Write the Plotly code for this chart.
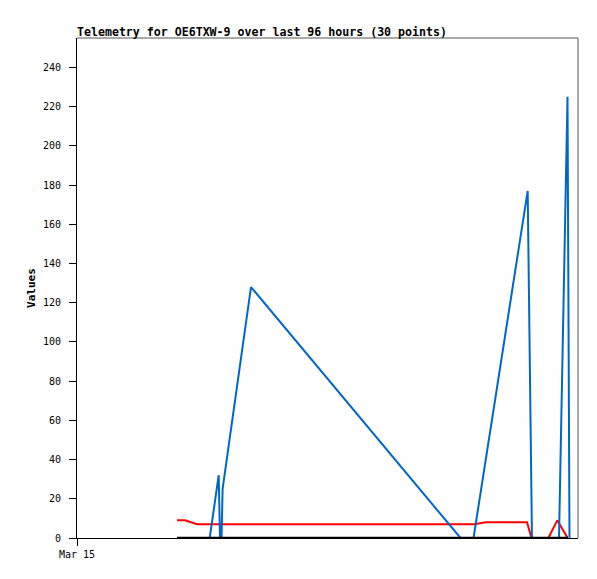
import plotly.graph_objects as go

# hours since Mar 15 00:00
blue_hours = [19.16, 25.43, 27.15, 27.40, 27.70, 27.90, 33.34, 73.49, 75.98, 86.36, 87.18, 92.36, 93.99, 94.37]
blue_values = [0, 0, 32, 0, 0, 25, 128, 0, 0, 177, 0, 0, 225, 0]

red_hours = [19.16, 20.69, 22.99, 76.07, 78.37, 86.23, 87.09, 90.31, 92.03, 94.02]
red_values = [9, 9, 7, 7, 8, 8, 0, 0, 9, 0]

black_hours = [19.16, 94.08]
black_values = [0, 0]

x_tick_vals = [0]
x_tick_text = ["Mar 15"]

FONT = "DejaVu Sans Mono"
OFF = 8  # page body margin offset

fig = go.Figure()
fig.add_trace(go.Scatter(x=red_hours, y=red_values, mode="lines",
                         line=dict(color="#ff0000", width=2), hoverinfo="skip"))
fig.add_trace(go.Scatter(x=blue_hours, y=blue_values, mode="lines",
                         line=dict(color="#0066cc", width=2), hoverinfo="skip"))
fig.add_trace(go.Scatter(x=black_hours, y=black_values, mode="lines",
                         line=dict(color="#000000", width=2.5), hoverinfo="skip"))

fig.update_layout(
    width=597, height=579, autosize=False,
    margin=dict(l=77 - OFF, r=19 + OFF, t=38 - OFF, b=41 + OFF),
    paper_bgcolor="white", plot_bgcolor="white",
    showlegend=False,
    font=dict(family=FONT, size=10, color="black"),
    title=dict(text="<b>Telemetry for OE6TXW-9 over last 96 hours (30 points)</b>",
               x=(77 - OFF) / 597, xanchor="left", xref="container",
               y=1 - (32 - OFF) / 579, yanchor="middle", yref="container",
               font=dict(family=FONT, size=11.6, color="black")),
    xaxis=dict(range=[0, 96], tickmode="array", tickvals=x_tick_vals, ticktext=x_tick_text,
               showgrid=False, zeroline=False, showline=True, linecolor="black", linewidth=1,
               ticks="outside", ticklen=7, tickcolor="black", tickwidth=1,
               tickfont=dict(family=FONT, size=10, color="black")),
    yaxis=dict(range=[0, 255], dtick=20, tick0=0,
               showgrid=False, zeroline=False, showline=True, linecolor="black", linewidth=1,
               ticks="outside", ticklen=7, tickcolor="black", tickwidth=1,
               ticklabelstandoff=6,
               tickfont=dict(family=FONT, size=10, color="black"),
               title=dict(text="<b>Values</b>", standoff=5,
                          font=dict(family=FONT, size=11, color="black"))),
    shapes=[
        dict(type="line", xref="paper", yref="paper", x0=0, x1=1, y0=1, y1=1,
             line=dict(color="#555555", width=1)),
        dict(type="line", xref="paper", yref="paper", x0=1, x1=1, y0=0, y1=1,
             line=dict(color="#555555", width=1)),
    ],
)

fig.write_html("out.html")
